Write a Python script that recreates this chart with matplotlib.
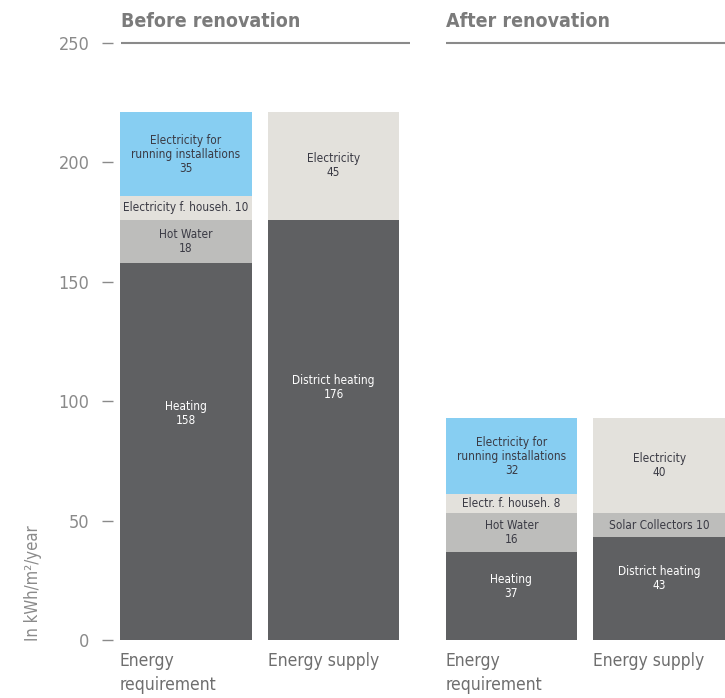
import matplotlib.pyplot as plt

plt.rcParams['font.family'] = ['DejaVu Sans']
plt.rcParams['font.stretch'] = 'condensed'

# data
group_titles = ["Before renovation", "After renovation"]
bar_names = ["Energy\nrequirement", "Energy supply", "Energy\nrequirement", "Energy supply"]

# requirement stacks (bottom -> top)
req_labels = ["Heating", "Hot Water", None, "Electricity for\nrunning installations"]
req_before = [158, 18, 10, 35]
req_after = [37, 16, 8, 32]
hh_labels = ["Electricity f. househ.", "Electr. f. househ."]

# supply stacks (bottom -> top)
sup_before = [176, 0, 45]
sup_after = [43, 10, 40]
sup_labels = ["District heating", "Solar Collectors", "Electricity"]

yticks = [0, 50, 100, 150, 200, 250]

dark = "#5f6062"
mid = "#bdbdbb"
light = "#e3e1dc"
blue = "#87cef2"
req_colors = [dark, mid, light, blue]
sup_colors = [dark, mid, light]

fig = plt.figure(figsize=(7.25, 6.98), dpi=100)
ax = fig.add_axes([120/725, 1-640/698, 605/725, (640-43)/698])

pos = [0, 1, 2.203, 3.203]
w = 0.89
ax.set_xlim(-w/2, 3.203 + w/2)
ax.set_ylim(0, 250)


def stack(x, vals, colors, texts):
    b = 0
    for k, (v, c, t) in enumerate(zip(vals, colors, texts)):
        if v == 0:
            continue
        ax.bar(x, v, width=w, bottom=b, color=c, edgecolor='none')
        tc = 'white' if c == dark else '#3a3a44'
        # base segment label sits a bit above the middle
        ty = b + v * (0.6 if k == 0 else 0.5)
        ax.text(x, ty, t, ha='center', va='center', fontsize=8.5,
                color=tc, linespacing=1.1)
        b += v


for i, (rv, sv) in enumerate([(req_before, sup_before), (req_after, sup_after)]):
    rt = []
    for j, v in enumerate(rv):
        if j == 2:
            rt.append(f"{hh_labels[i]} {v}")
        else:
            rt.append(f"{req_labels[j]}\n{v}")
    stack(pos[2*i], rv, req_colors, rt)
    st = []
    for j, v in enumerate(sv):
        if j == 1:
            st.append(f"{sup_labels[j]} {v}")
        else:
            st.append(f"{sup_labels[j]}\n{v}")
    stack(pos[2*i+1], sv, sup_colors, st)

# group headers with rule at 250
for i, title in enumerate(group_titles):
    x0 = pos[2*i] - w/2
    x1 = pos[2*i+1] + w/2
    if i == 0:
        x0 += 0.01
        x1 += 0.07
    ax.plot([x0, x1], [250, 250], color='#8a8a8a', lw=1.5, clip_on=False,
            solid_capstyle='butt')
    ax.text(x0, 255, title, ha='left', va='bottom', fontsize=14,
            fontweight='bold', color='#7b7b7b')

# category labels
for x, name in zip(pos, bar_names):
    ax.text(x - w/2, -5, name, ha='left', va='top', fontsize=12.5,
            color='#6e6e6e', linespacing=1.45)

for s in ax.spines.values():
    s.set_visible(False)
ax.spines['left'].set_position(('outward', 5))
ax.set_xticks([])
ax.set_yticks(yticks)
ax.tick_params(axis='y', length=8, width=1, color='#8a8a8a', pad=9,
               labelsize=13, labelcolor='#8a8a8a')
fig.text(33/725, 1-641/698, "In kWh/m\u00b2/year", rotation=90,
         ha='center', va='bottom', fontsize=12, color='#8a8a8a')

fig.savefig("out.png", dpi=100)
